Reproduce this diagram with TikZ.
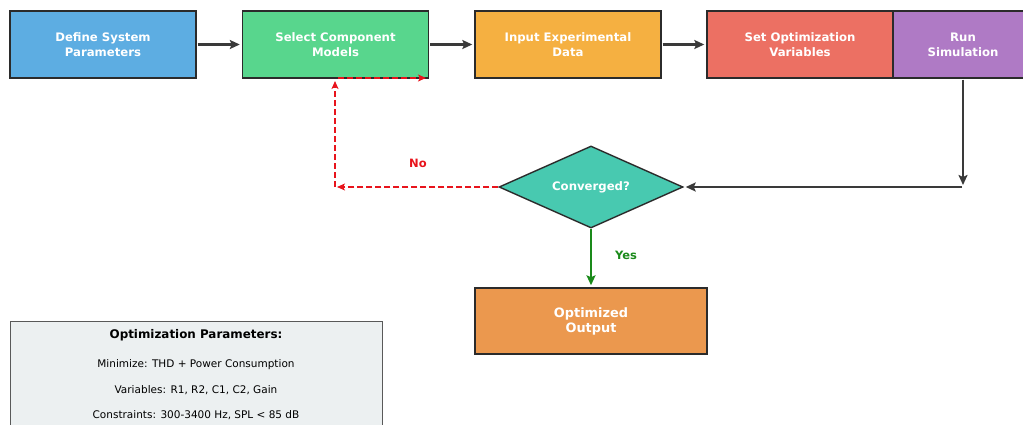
\documentclass[tikz,border=0pt]{standalone}
\usepackage{fontspec}
\setmainfont{DejaVu Sans}
\usetikzlibrary{shapes.geometric,arrows.meta}
\definecolor{edgec}{HTML}{2B2B2B}
\definecolor{arrc}{HTML}{3A3A3A}
\definecolor{cblue}{HTML}{5DADE2}
\definecolor{cgreen}{HTML}{58D68D}
\definecolor{corange}{HTML}{F5B041}
\definecolor{cred}{HTML}{EC7063}
\definecolor{cpurple}{HTML}{AF7AC5}
\definecolor{cteal}{HTML}{48C9B0}
\definecolor{cout}{HTML}{EB984E}
\definecolor{cpanel}{HTML}{ECF0F1}
\definecolor{nored}{HTML}{E8141C}
\definecolor{yesgreen}{HTML}{1A8A1A}
\begin{document}
\begin{tikzpicture}[x=1pt,y=-1pt,
  stepbox/.style={draw=edgec,line width=1.4pt,minimum width=186pt,minimum height=67pt,inner sep=0pt,align=center,text=white,font=\bfseries\fontsize{11.7}{15}\selectfont},
  conn/.style={draw=arrc,line width=2.2pt,shorten >=2pt,shorten <=1pt,-{Stealth[length=10pt,width=9pt,inset=2pt]}},
  noarrow/.style={draw=nored,line width=1.8pt,dash pattern=on 6pt off 3pt,-{Stealth[length=8pt,width=7pt,inset=2pt]}},
  yesarrow/.style={draw=yesgreen,line width=2.2pt,shorten >=2pt,-{Stealth[length=10pt,width=9pt,inset=2pt]}},
  lbl/.style={font=\bfseries\fontsize{11.5}{13}\selectfont}
]
\useasboundingbox (0,0) rectangle (1023,425);
\clip (0,0) rectangle (1023,425);
\node[stepbox,fill=cblue] (def) at (103,44.5) {Define System\\Parameters};
\node[stepbox,fill=cgreen] (sel) at (335.5,44.5) {Select Component\\Models};
\node[stepbox,fill=corange] (inp) at (568,44.5) {Input Experimental\\Data};
\node[stepbox,fill=cred] (set) at (800,44.5) {Set Optimization\\Variables};
\node[stepbox,fill=cpurple,minimum width=140pt] (run) at (963,44.5) {Run\\Simulation};
\node[diamond,aspect=2.24,draw=edgec,line width=1.4pt,fill=cteal,minimum width=184pt,minimum height=82pt,inner sep=0pt,text=white,font=\bfseries\fontsize{11.7}{13}\selectfont] (conv) at (591,187) {Converged?};
\node[stepbox,fill=cout,minimum width=232pt,minimum height=66pt,font=\bfseries\fontsize{12.9}{15}\selectfont] (out) at (591,321) {Optimized\\Output};
\node[draw=black!65,line width=1.2pt,fill=cpanel,minimum width=372pt,minimum height=140pt,anchor=north west,inner sep=0pt] (panel) at (10,321) {};
\node[font=\bfseries\fontsize{11.9}{13}\selectfont] (ptitle) at (196,335) {Optimization Parameters:};
\node[font=\fontsize{10.5}{12}\selectfont] (p1) at (196,365) {Minimize: THD + Power Consumption};
\node[font=\fontsize{10.5}{12}\selectfont] (p2) at (196,390) {Variables: R1, R2, C1, C2, Gain};
\node[font=\fontsize{10.5}{12}\selectfont] (p3) at (196,415) {Constraints: 300-3400 Hz, SPL < 85 dB};
\draw[conn] (def) -- (sel);
\draw[conn] (sel) -- (inp);
\draw[conn] (inp) -- (set);
\coordinate (runturn) at (963,187);
\draw[conn] (run.south) -- (runturn);
\draw[conn] (runturn) -- (conv.east);
\coordinate (noturn) at (335,187);
\coordinate (noup) at (335,81);
\coordinate (notop) at (338,78);
\coordinate (noend) at (426,78);
\draw[noarrow] (conv.west) -- ([xshift=2pt]noturn);
\draw[noarrow] (noturn) -- (noup);
\draw[noarrow] (notop) -- (noend);
\node[lbl,text=nored] (nolbl) at (418,163) {No};
\draw[yesarrow] (conv.south) -- (out.north);
\node[lbl,text=yesgreen] (yeslbl) at (626,255) {Yes};
\end{tikzpicture}
\end{document}
